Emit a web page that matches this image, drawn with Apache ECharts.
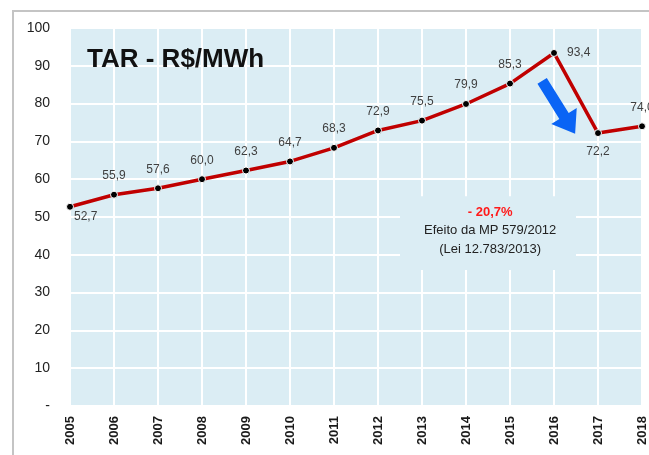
<!DOCTYPE html>
<html>
<head>
<meta charset="utf-8">
<script src="https://cdn.jsdelivr.net/npm/echarts@6/dist/echarts.min.js"></script>
<style>html,body{margin:0;padding:0;background:#fff;}#c{width:649px;height:455px;}</style>
</head>
<body>
<div id="c"></div>
<script>
const years = ['2005','2006','2007','2008','2009','2010','2011','2012','2013','2014','2015','2016','2017','2018'];
const tar = [52.7, 55.9, 57.6, 60.0, 62.3, 64.7, 68.3, 72.9, 75.5, 79.9, 85.3, 93.4, 72.2, 74.0];
const yTicks = [0,10,20,30,40,50,60,70,80,90,100];
const labelPos = ['bottomRight','top','top','top','top','top','top','top','top','top','top','right','bottom','top'];

const BG = '#dbedf4';
const chart = echarts.init(document.getElementById('c'));

const data = tar.map((v, i) => {
  const p = labelPos[i];
  const lab = {};
  if (p === 'bottomRight') { lab.position = [8, 8]; }
  else if (p === 'right') { lab.position = 'right'; lab.distance = 9; }
  else if (p === 'bottom') { lab.position = 'bottom'; lab.distance = 9; }
  else { lab.position = 'top'; lab.distance = 9; }
  return { value: v, label: lab };
});

chart.setOption({
  animation: false,
  backgroundColor: '#fff',
  grid: { left: 70, right: 7, top: 28, bottom: 49, show: true, backgroundColor: BG, borderWidth: 0 },
  xAxis: {
    type: 'category', data: years, boundaryGap: false,
    axisLine: { show: false }, axisTick: { show: false },
    axisLabel: { rotate: 90, fontSize: 13, fontFamily: 'Liberation Sans, Arial', color: '#1a1a1a', margin: 10, fontWeight: 'bold' },
    splitLine: { show: true, lineStyle: { color: '#ffffff', width: 2 } }
  },
  yAxis: {
    type: 'value', min: 0, max: 100, interval: 10,
    axisLine: { show: false }, axisTick: { show: false },
    axisLabel: { fontSize: 14, fontFamily: 'Liberation Sans, Arial', color: '#222', margin: 20,
      formatter: v => (v === 0 ? '-' : String(v)) },
    splitLine: { show: true, lineStyle: { color: '#ffffff', width: 2 } }
  },
  series: [{
    type: 'line', data: data,
    lineStyle: { color: '#c00000', width: 3.5 },
    symbol: 'circle', symbolSize: 7,
    itemStyle: { color: '#000', borderColor: '#fff', borderWidth: 1 },
    label: { show: true, fontSize: 12, fontFamily: 'Liberation Sans, Arial', color: '#404040',
      formatter: p => p.value.toFixed(1).replace('.', ',') },
    z: 5
  }]
});

// pixel position for fractional category index (linear interpolation between categories)
function px(f, v) {
  const i0 = Math.floor(f), i1 = Math.min(i0 + 1, years.length - 1);
  const p0 = chart.convertToPixel({ gridIndex: 0 }, [i0, v]);
  const p1 = chart.convertToPixel({ gridIndex: 0 }, [i1, v]);
  const t = f - i0;
  return [p0[0] + (p1[0] - p0[0]) * t, p0[1]];
}
// Arrow anchored to data space
const a0 = px(10.73, 86.0), a1 = px(11.48, 72.0);
const dx = a1[0] - a0[0], dy = a1[1] - a0[1];
const L = Math.hypot(dx, dy), ux = dx / L, uy = dy / L, nx = -uy, ny = ux;
const sw = 5.5, hw = 15, hl = 21;
const bx = a1[0] - ux * hl, by = a1[1] - uy * hl;
const arrowPts = [
  [a0[0] + nx * sw, a0[1] + ny * sw],
  [bx + nx * sw, by + ny * sw],
  [bx + nx * hw, by + ny * hw],
  [a1[0], a1[1]],
  [bx - nx * hw, by - ny * hw],
  [bx - nx * sw, by - ny * sw],
  [a0[0] - nx * sw, a0[1] - ny * sw]
];
const b0 = px(7.5, 55.5), b1 = px(11.5, 36.0);
const cx = px(9.55, 0)[0];

chart.setOption({
  graphic: [
    { type: 'rect', shape: { x: 13, y: 11, width: 700, height: 500 }, style: { fill: 'none', stroke: '#c4c4c4', lineWidth: 2 }, z: 1, silent: true },
    { type: 'text', left: 87, top: 47, style: { text: 'TAR - R$/MWh', font: 'bold 26px "Liberation Sans", Arial', fill: '#111' }, z: 10 },
    { type: 'rect', shape: { x: b0[0], y: b0[1], width: b1[0] - b0[0], height: b1[1] - b0[1] }, style: { fill: BG, stroke: null }, z: 3 },
    { type: 'text', x: cx, y: 212, style: { text: '- 20,7%', font: 'bold 13px "Liberation Sans", Arial', fill: '#ff1a1a', align: 'center', verticalAlign: 'middle' }, z: 10 },
    { type: 'text', x: cx, y: 230, style: { text: 'Efeito da MP 579/2012', font: '13px "Liberation Sans", Arial', fill: '#222', align: 'center', verticalAlign: 'middle' }, z: 10 },
    { type: 'text', x: cx, y: 249, style: { text: '(Lei 12.783/2013)', font: '13px "Liberation Sans", Arial', fill: '#222', align: 'center', verticalAlign: 'middle' }, z: 10 },
    { type: 'polygon', shape: { points: arrowPts }, style: { fill: '#0a64f5' }, z: 10 }
  ]
});
</script>
</body>
</html>
